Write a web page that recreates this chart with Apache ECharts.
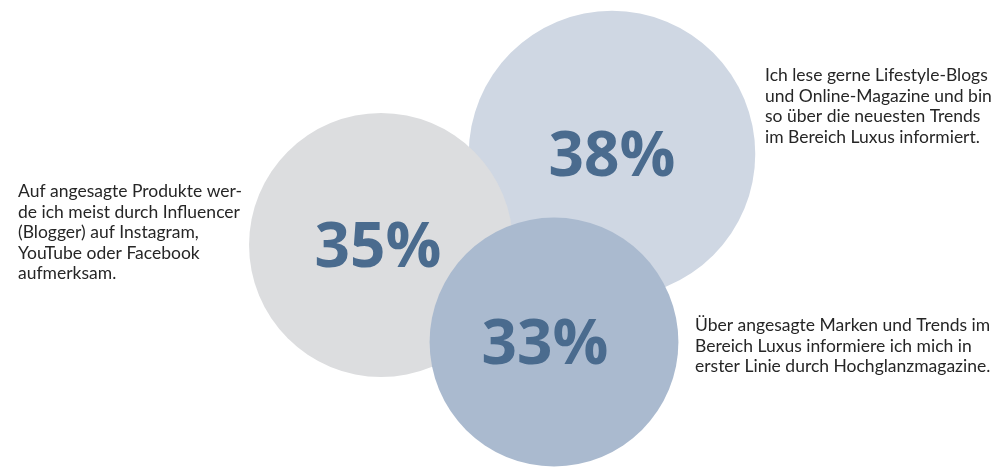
<!DOCTYPE html>
<html>
<head>
<meta charset="utf-8">
<script src="https://cdn.jsdelivr.net/npm/echarts@6/dist/echarts.min.js"></script>
<style>
html,body{margin:0;padding:0;background:#fff;}
#chart{width:998px;height:467px;}
</style>
</head>
<body>
<div id="chart"></div>
<script>
// Data
const categories = ['Lifestyle-Blogs / Online-Magazine', 'Influencer', 'Hochglanzmagazine'];
const values = [38, 35, 33];
const descriptions = [
  'Ich lese gerne Lifestyle-Blogs\nund Online-Magazine und bin\nso über die neuesten Trends\nim Bereich Luxus informiert.',
  'Auf angesagte Produkte wer-\nde ich meist durch Influencer\n(Blogger) auf Instagram,\nYouTube oder Facebook\naufmerksam.',
  'Über angesagte Marken und Trends im\nBereich Luxus informiere ich mich in\nerster Linie durch Hochglanzmagazine.'
];

// Layout (not data)
const centers = [[612, 154], [381, 245], [554, 342]];
const colors = ['#cfd7e3', '#dcdddf', '#aabacf'];
const labelOffsets = [[0, 4], [-3, 4], [-9, 4]];
const textPos = [[765, 65], [18, 181], [695, 315]];
const radiusPerUnit = 3.77;

const chart = echarts.init(document.getElementById('chart'));
const data = values.map((v, i) => ({
  name: categories[i],
  value: [centers[i][0], centers[i][1], v],
  itemStyle: { color: colors[i], opacity: 1 },
  label: { offset: labelOffsets[i] }
}));

chart.setOption({
  animation: false,
  grid: { left: 0, right: 0, top: 0, bottom: 0 },
  xAxis: { type: 'value', min: 0, max: 998, show: false },
  yAxis: { type: 'value', min: 0, max: 467, inverse: true, show: false },
  series: [{
    type: 'scatter',
    data: data,
    symbol: 'circle',
    symbolSize: v => v[2] * radiusPerUnit * 2,
    label: {
      show: true,
      position: 'inside',
      formatter: p => p.value[2] + '%',
      color: '#4a6b8e',
      fontFamily: 'Open Sans',
      fontWeight: 'bold',
      fontSize: 62
    },
    emphasis: { disabled: true }
  }],
  graphic: descriptions.map((t, i) => ({
    type: 'text',
    left: textPos[i][0],
    top: textPos[i][1],
    style: {
      text: t,
      fill: '#262626',
      font: '17.5px Lato',
      lineHeight: 20.6
    }
  }))
});
</script>
</body>
</html>
